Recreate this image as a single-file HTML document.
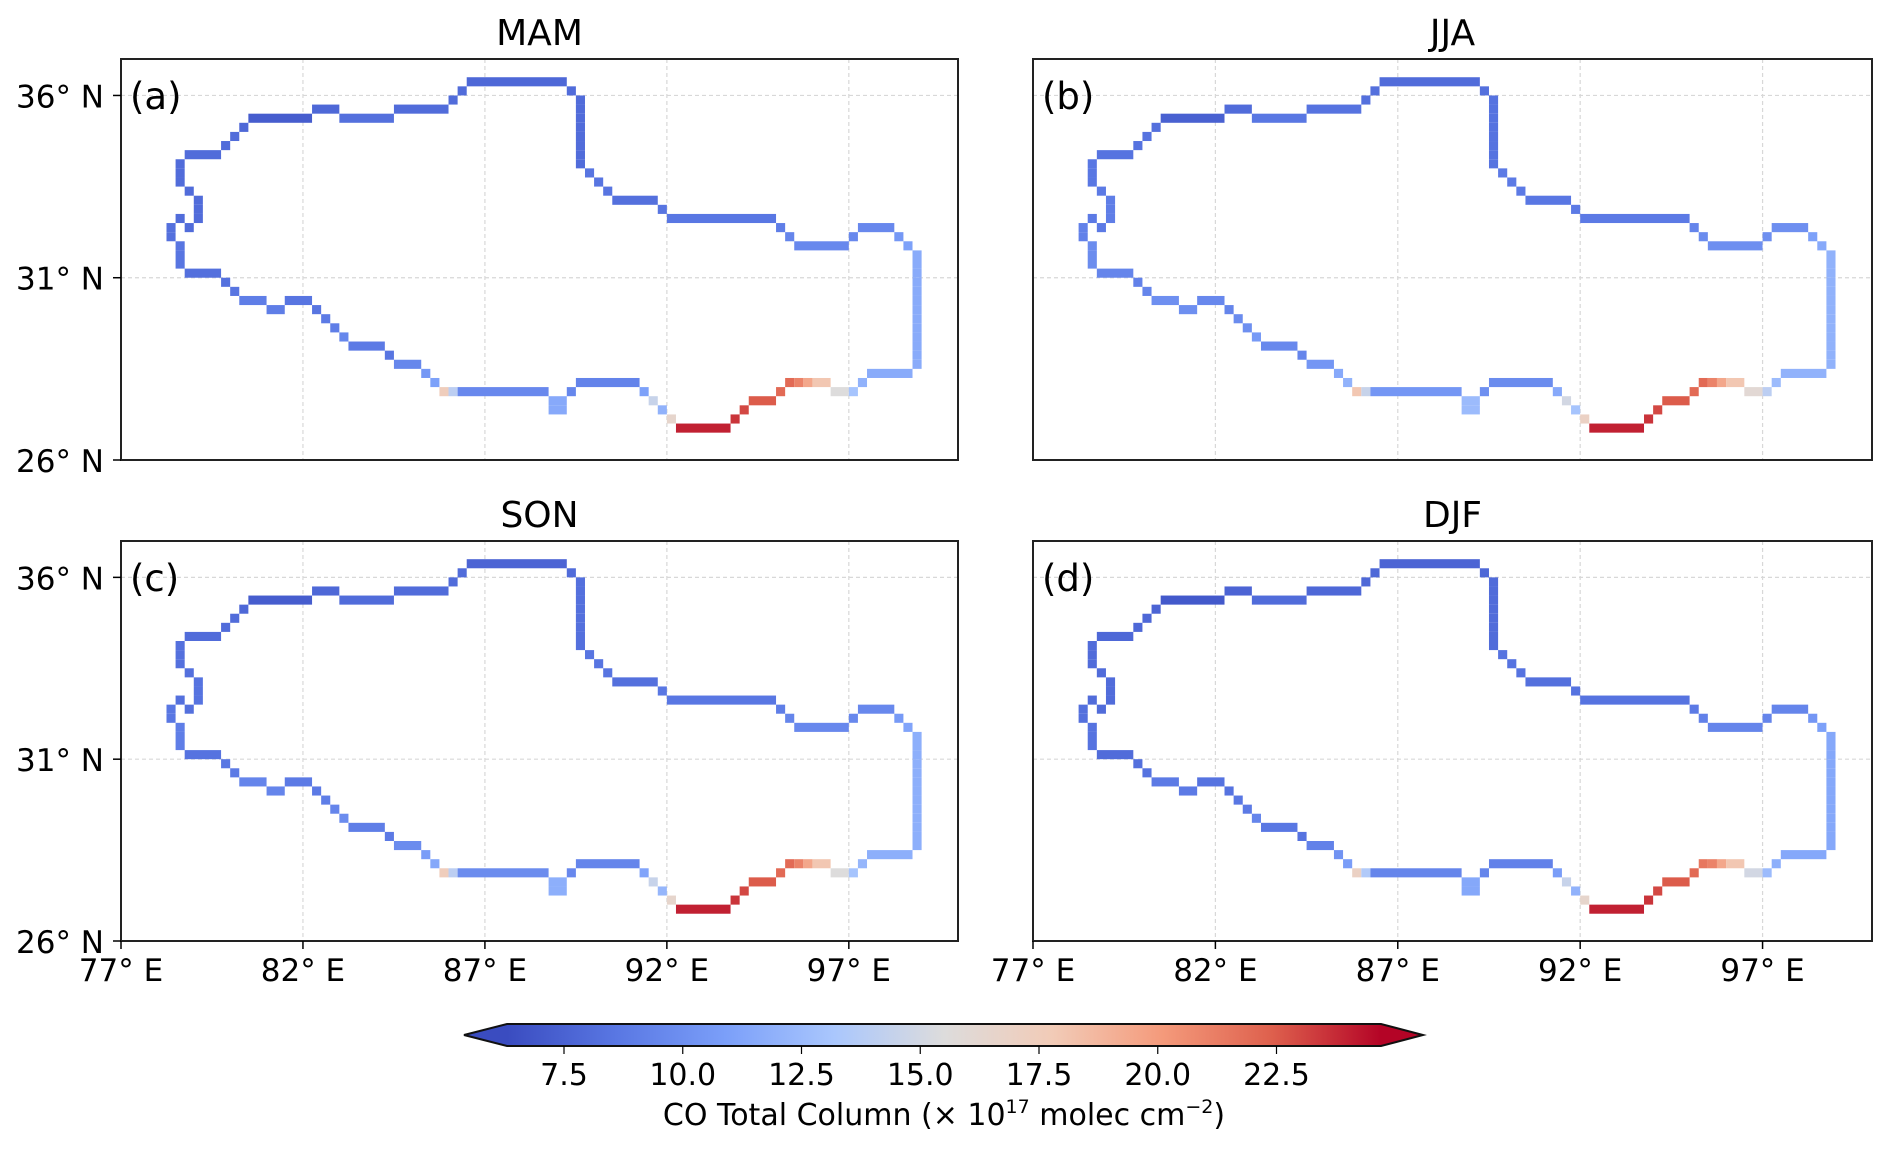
<!DOCTYPE html>
<html><head><meta charset="utf-8"><style>
html,body{margin:0;padding:0;background:#fff}
svg{display:block;font-family:"DejaVu Sans","Liberation Sans",sans-serif}
</style></head><body>
<svg id="fig" width="1892" height="1149" viewBox="0 0 1892 1149" xmlns="http://www.w3.org/2000/svg">
<defs>
<linearGradient id="cw" x1="0" x2="1" y1="0" y2="0">
<stop offset="0" stop-color="#3a4cc0"/><stop offset="0.125" stop-color="#5977e3"/>
<stop offset="0.25" stop-color="#7b9ff9"/><stop offset="0.375" stop-color="#aac7fd"/>
<stop offset="0.5" stop-color="#dddcdc"/><stop offset="0.625" stop-color="#f2cbb7"/>
<stop offset="0.75" stop-color="#f49a7b"/><stop offset="0.875" stop-color="#de604d"/>
<stop offset="1" stop-color="#b40426"/>
</linearGradient>
</defs>
</svg>
<script>
// grid-cell segments (row from 37N in 0.25deg steps, col from 77E in 0.25deg steps)
const segRow0 = [2,3,3,4,4,5,5,6,6,7,8,9,10,11,14,15,17,18,18,20,23,24,25,26,26,27,27,28,29,30,31,32,33,34,35,36,36,36,37,36,35,36,37,38,39,40,39,38,37,36,35,35,35,35,36,36,35,34,21,20,19,18,19,20,19,18,17,16,15,14,13,12];
const segRow1 = [2,3,3,4,11,5,5,6,6,7,8,9,10,13,14,17,17,18,19,22,23,24,25,26,26,27,27,28,29,30,31,32,33,34,35,36,36,36,38,36,35,36,37,38,39,40,39,38,37,36,35,35,35,35,36,36,35,34,33,20,19,18,19,20,19,18,17,16,15,14,13,12];
const segCol0 = [38,37,49,36,50,21,30,14,24,13,12,11,7,6,7,8,6,7,5,6,7,11,12,13,18,16,21,22,23,24,25,29,30,33,34,35,36,37,47,49,50,57,58,59,60,61,67,68,69,72,73,74,75,76,78,80,81,82,87,86,85,81,80,74,73,72,60,59,54,53,52,51];
const segCol1 = [48,37,49,36,50,23,35,20,29,13,12,11,10,6,7,8,6,7,5,6,10,11,12,15,20,17,21,22,23,24,28,29,32,33,34,35,36,46,48,49,56,57,58,59,60,66,67,68,71,72,73,74,75,77,79,80,81,86,87,86,85,84,80,79,73,72,71,59,58,53,52,51];
const valMAM = [7.8,8,8,8,8,7.8,8,7.2,8.2,7.8,8,8,8,8,8,8,8,8,8.2,8.5,8.2,8.3,8.5,9,8.5,9,8.5,8.8,9,9.5,8.8,8.5,9.5,10.5,11,17.5,14,9.6,11.5,9.5,9.3,11,14.5,12,16.5,24,23.5,23,22.5,22,22,21,19.5,18,15.5,13,12,11.6,11.6,11,10.5,9.6,9.6,9.6,9.4,9,8.6,8.5,8.2,8.5,8.5,8.5];
const valJJA = [8,8.2,8.2,8.2,8.4,8,8.4,7.4,8.6,8.2,8.4,8.4,8.4,8.6,8.8,9,8.8,8.8,9.2,9.8,9.4,9.2,9.4,10,9.6,10,9.4,9.8,10,10.6,9.6,9.4,10.4,11.5,12,18,14.5,10.4,12.5,10,9.8,11.5,15,13,17,24,23.5,23,22.5,22,22,21,19.5,18,16,14,12.5,12,12,11.5,11,10,10,10,9.8,9.4,8.8,8.8,8.6,8.8,8.8,8.8];
const valSON = [7.6,8,8,8,8.2,7.8,8,7.2,8,7.8,8,8,8,8.2,8.2,8.4,8.2,8.2,8.6,9,8.4,8.6,8.8,9.4,8.8,9.4,8.8,9,9.4,9.8,9,8.8,9.8,10.8,11.4,17.5,14,9.8,11.8,9.6,9.4,11.2,14.5,12.2,16.5,24,23.5,23,22.5,22,22,21,19.5,18,15.5,13,12.2,11.8,11.8,11.2,10.6,9.6,9.6,9.6,9.4,9,8.6,8.6,8.2,8.5,8.5,8.5];
const valDJF = [7.6,7.8,7.8,7.8,8,7.6,7.8,7,8,7.6,7.8,7.8,7.8,8,8,8,8,8,8.2,8.4,8,8.2,8.4,8.8,8.4,8.8,8.4,8.6,8.8,9.4,8.6,8.4,9.2,10.2,10.8,17,13.5,9.4,11.4,9.4,9.2,10.8,14.5,12,16.5,24,23.5,23,22.5,22,21.5,21,19.5,18,15,12.5,11.8,11.4,11.4,11,10.4,9.4,9.4,9.4,9.2,8.8,8.4,8.4,8.2,8.4,8.4,8.4];
const seasons = ['MAM','JJA','SON','DJF'];
const panelLetters = ['(a)','(b)','(c)','(d)'];
const seasonValues = [valMAM,valJJA,valSON,valDJF];
const lonTicks = [77,82,87,92,97];
const latTicks = [26,31,36];
const cbTicks = [7.5,10.0,12.5,15.0,17.5,20.0,22.5];

const NS='http://www.w3.org/2000/svg';
const svg=document.getElementById('fig');
function mk(tag,attrs,parent){const e=document.createElementNS(NS,tag);for(const k in attrs)e.setAttribute(k,attrs[k]);(parent||svg).appendChild(e);return e;}
const panels=[{x:121,y:59,w:837,h:401},{x:1033,y:59,w:839,h:401},{x:121,y:541,w:837,h:400},{x:1033,y:541,w:839,h:400}];
const LON0=77,LON1=100,LAT0=26,LAT1=37, VMIN=6.3, VMAX=24.7;
const stops=[[0,[58,76,192]],[0.125,[89,119,227]],[0.25,[123,159,249]],[0.375,[170,199,253]],[0.5,[221,220,220]],[0.625,[242,203,183]],[0.75,[244,154,123]],[0.875,[222,96,77]],[1,[180,4,38]]];
function cmap(v){let t=(v-VMIN)/(VMAX-VMIN);t=Math.max(0,Math.min(1,t));for(let i=1;i<stops.length;i++){if(t<=stops[i][0]){const a=stops[i-1],b=stops[i];const f=(t-a[0])/(b[0]-a[0]);const c=a[1].map((x,k)=>Math.round(x+(b[1][k]-x)*f));return 'rgb('+c.join(',')+')';}}return 'rgb(180,4,38)';}

panels.forEach((p,pi)=>{
  const xs=lon=>p.x+(lon-LON0)/(LON1-LON0)*p.w;
  const ys=lat=>p.y+(LAT1-lat)/(LAT1-LAT0)*p.h;
  const g=mk('g',{});
  
  
  const t=mk('text',{x:p.x+p.w/2,y:p.y-14,'text-anchor':'middle','font-size':36,fill:'#000'},g);
  t.textContent=seasons[pi];
  
  
  lonTicks.slice(1).forEach(lon=>{const l=mk('line',{x1:xs(lon),x2:xs(lon),y1:p.y,y2:p.y+p.h,stroke:'#d8d8d8','stroke-width':1.2,'stroke-dasharray':'4,3'},g);
    
    });
  latTicks.slice(1).forEach(lat=>{const l=mk('line',{x1:p.x,x2:p.x+p.w,y1:ys(lat),y2:ys(lat),stroke:'#d8d8d8','stroke-width':1.2,'stroke-dasharray':'4,3'},g);
    
    });
  const vals=seasonValues[pi];
  for(let s=0;s<segRow0.length;s++){
    for(let r=segRow0[s];r<=segRow1[s];r++){
      const lat=LAT1-r*0.25, x0=xs(LON0+segCol0[s]*0.25), x1=xs(LON0+(segCol1[s]+1)*0.25);
      const rc=mk('rect',{x:x0,y:ys(lat),width:x1-x0,height:ys(lat-0.25)-ys(lat),fill:cmap(vals[s])},g);
      
      
    }
  }
  const fr=mk('rect',{x:p.x,y:p.y,width:p.w,height:p.h,fill:'none',stroke:'#222','stroke-width':2},g);
  
  
  const lt=mk('text',{x:p.x+9,y:p.y+50,'font-size':37,fill:'#000'},g);
  lt.textContent=panelLetters[pi];
  
  
  if(pi%2===0){
    latTicks.forEach(lat=>{
      const tk=mk('line',{x1:p.x-8,x2:p.x,y1:ys(lat),y2:ys(lat),stroke:'#000','stroke-width':1.5},g);
      
      
      const tx=mk('text',{x:p.x-17,y:ys(lat)+12,'text-anchor':'end','font-size':31,fill:'#000'},g);
      tx.textContent=lat+'° N';
      
      
    });
  }
  if(pi>=2){
    lonTicks.forEach(lon=>{
      const tk=mk('line',{x1:xs(lon),x2:xs(lon),y1:p.y+p.h,y2:p.y+p.h+8,stroke:'#000','stroke-width':1.5},g);
      
      
      const tx=mk('text',{x:xs(lon),y:p.y+p.h+40,'text-anchor':'middle','font-size':31,fill:'#000'},g);
      tx.textContent=lon+'° E';
      
      
    });
  }
});

const cb={x0:507,x1:1381,y:1024,h:22,tipL:464,tipR:1423};
const cx=v=>cb.x0+(v-VMIN)/(VMAX-VMIN)*(cb.x1-cb.x0);
const cg=mk('g',{});


const tl=mk('polygon',{points:`${cb.x0},${cb.y} ${cb.tipL},${cb.y+cb.h/2} ${cb.x0},${cb.y+cb.h}`,fill:cmap(VMIN-1)},cg);


const tr=mk('polygon',{points:`${cb.x1},${cb.y} ${cb.tipR},${cb.y+cb.h/2} ${cb.x1},${cb.y+cb.h}`,fill:cmap(VMAX+1)},cg);


const bar=mk('rect',{x:cb.x0,y:cb.y,width:cb.x1-cb.x0,height:cb.h,fill:'url(#cw)'},cg);


const ol=mk('polygon',{points:`${cb.x0},${cb.y} ${cb.x1},${cb.y} ${cb.tipR},${cb.y+cb.h/2} ${cb.x1},${cb.y+cb.h} ${cb.x0},${cb.y+cb.h} ${cb.tipL},${cb.y+cb.h/2}`,fill:'none',stroke:'#111','stroke-width':2},cg);


cbTicks.forEach(v=>{
  const tk=mk('line',{x1:cx(v),x2:cx(v),y1:cb.y+cb.h,y2:cb.y+cb.h+8,stroke:'#000','stroke-width':1.2},cg);
  
  
  const tx=mk('text',{x:cx(v),y:1085,'text-anchor':'middle','font-size':30,fill:'#000'},cg);
  tx.textContent=v.toFixed(1);
  
  
});
const ct=mk('text',{x:944,y:1125,'text-anchor':'middle','font-size':30,fill:'#000'},cg);
ct.innerHTML='CO Total Column (× 10<tspan dy="-12" font-size="19">17</tspan><tspan dy="12"> molec cm</tspan><tspan dy="-12" font-size="19">−2</tspan><tspan dy="12">)</tspan>';


</script>
</body></html>
